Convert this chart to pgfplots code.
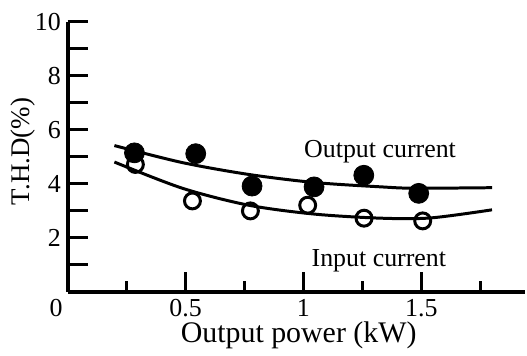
\documentclass[border=0pt]{standalone}
\usepackage{fontspec}
\setmainfont{Liberation Serif}
\usepackage{pgfplots}
\pgfplotsset{compat=1.18}
\begin{document}
\begin{tikzpicture}
\begin{axis}[
  scale only axis, width=229.5pt, height=135.5pt,
  xmin=0, xmax=1.94, ymin=0, ymax=10,
  axis x line=bottom, axis y line=left,
  axis line style={line width=2pt, -},
  tick align=inside,
  xtick={0.5,1,1.5}, xticklabels={0.5,1,1.5},
  minor xtick={0.25,0.75,1.25,1.75},
  ytick={0,1,2,3,4,5,6,7,8,9,10},
  yticklabels={,,2,,4,,6,,8,,10},
  major tick length=10pt, minor tick length=5.5pt,
  tick style={line width=1.5pt, black},
  /pgf/number format/assume math mode=true,
  ticklabel style={font=\fontsize{13}{15}\selectfont},
  xlabel={Output power (kW)}, ylabel={T.H.D(\%)},
  xlabel style={at={(axis description cs:0.505,-0.162)}, anchor=center, font=\fontsize{15}{17}\selectfont},
  ylabel style={at={(axis description cs:-0.098,0.52)}, anchor=center, font=\fontsize{13.5}{16}\selectfont},
  clip=false,
]
\addplot[black, line width=1.5pt, smooth] coordinates {(0.198,5.42) (0.486,4.79) (0.768,4.35) (1.049,4.05) (1.33,3.89) (1.47,3.84) (1.80,3.86)};
\addplot[black, line width=1.5pt, smooth] coordinates {(0.198,4.81) (0.486,3.84) (0.768,3.21) (1.049,2.88) (1.33,2.73) (1.54,2.74) (1.80,3.04)};
\addplot[only marks, mark=*, mark size=5pt, mark options={fill=black, draw=black}] coordinates {(0.283,5.15) (0.543,5.12) (0.782,3.92) (1.045,3.89) (1.256,4.32) (1.489,3.65)};
\addplot[only marks, mark=o, mark size=4pt, mark options={draw=black, line width=1.5pt, fill=white}] coordinates {(0.287,4.72) (0.529,3.37) (0.775,3.0) (1.018,3.21) (1.257,2.73) (1.506,2.63)};
\node[font=\fontsize{13}{15}\selectfont] at (axis cs:1.325,5.2) {Output current};
\node[font=\fontsize{13}{15}\selectfont] at (axis cs:1.32,1.14) {Input current};
\node[font=\fontsize{13}{15}\selectfont, anchor=north east] at ([xshift=1pt,yshift=0pt]axis cs:0,0) {0};
\coordinate (O) at (axis cs:0,0);
\end{axis}
\path ([shift={(-34pt,-29.5pt)}]O) rectangle ++(263.5pt,176pt);
\end{tikzpicture}
\end{document}
